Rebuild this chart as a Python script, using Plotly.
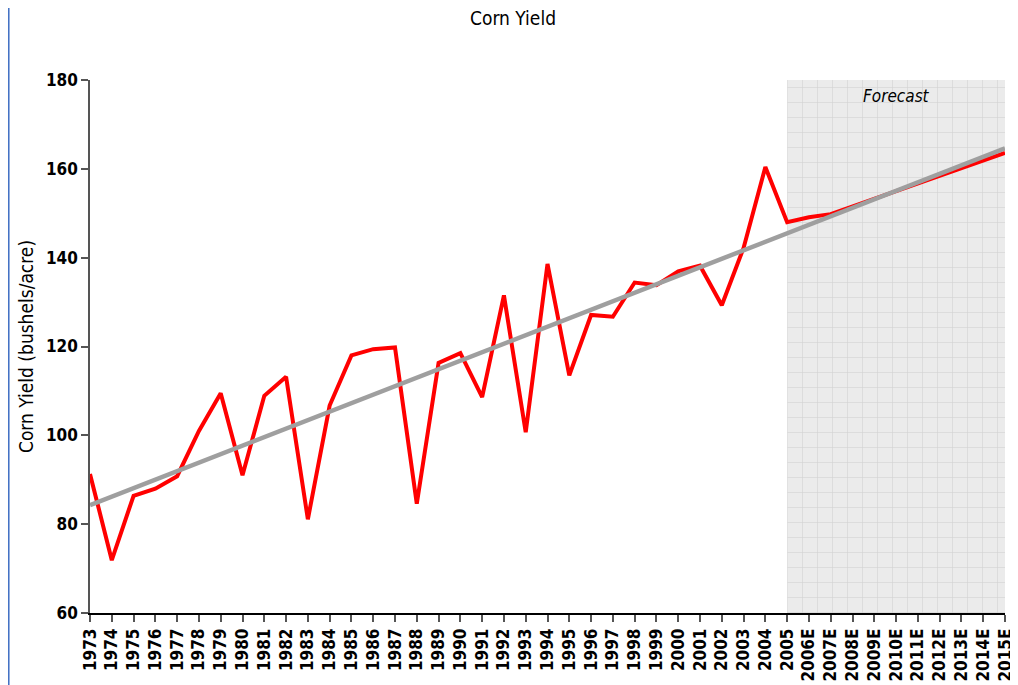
import plotly.graph_objects as go

# categories (years, E = estimate)
years = [str(y) for y in range(1973, 2006)] + [str(y) + "E" for y in range(2006, 2016)]

# corn yield, bushels/acre
yield_vals = [91.3, 71.9, 86.4, 88.0, 90.8, 101.0, 109.5, 91.0, 108.9, 113.2,
              81.1, 106.7, 118.0, 119.4, 119.8, 84.6, 116.3, 118.5, 108.6, 131.5,
              100.7, 138.6, 113.5, 127.1, 126.7, 134.4, 133.8, 136.9, 138.2, 129.3,
              142.2, 160.4, 148.0,
              149.1, 149.8, 151.5, 153.2, 155.0, 156.7, 158.4, 160.1, 161.9, 163.6]

# trend line end points
trend_x = ["1973", "2015E"]
trend_y = [84.3, 164.6]

forecast_start = "2005"
forecast_end = "2015E"
forecast_label_at = "2010E"

y_min, y_max = 60, 180

FONT = "Liberation Sans Narrow, DejaVu Sans Condensed, Arial Narrow, sans-serif"

fig = go.Figure()

# shaded forecast area with grid pattern
fig.add_trace(go.Scatter(
    x=[forecast_start, forecast_end, forecast_end, forecast_start, forecast_start],
    y=[y_min, y_min, y_max, y_max, y_min],
    fill="toself", mode="none",
    fillcolor="#ebebeb",
    fillpattern=dict(shape="+", size=15, solidity=0.08,
                     fgcolor="#bababa", bgcolor="#ebebeb"),
    hoverinfo="skip", showlegend=False))

fig.add_trace(go.Scatter(
    x=years, y=yield_vals, mode="lines",
    line=dict(color="#ff0000", width=4),
    showlegend=False))

fig.add_trace(go.Scatter(
    x=trend_x, y=trend_y, mode="lines",
    line=dict(color="#9f9f9f", width=4.5),
    showlegend=False))

fig.add_annotation(x=forecast_label_at, y=y_max, yanchor="top", yshift=-4,
                   text="<i>Forecast</i>", showarrow=False,
                   font=dict(family=FONT, size=17, color="#000000"))

# left frame line
fig.add_shape(type="line", xref="paper", yref="paper",
              x0=-0.089, x1=-0.089, y0=-0.14, y1=1.16,
              line=dict(color="#4472c4", width=2))

# page body adds an 8px offset, so the figure is 8px smaller
fig.update_layout(
    width=1010, height=677,
    margin=dict(l=82, r=13, t=72, b=72),
    paper_bgcolor="white", plot_bgcolor="white",
    title=dict(text="Corn Yield", x=0.5, xref="container", xanchor="center",
               y=0.985, yanchor="middle",
               font=dict(family=FONT, size=19, color="#000000")),
    font=dict(family=FONT, color="#000000"),
)

fig.update_xaxes(
    type="category", categoryorder="array", categoryarray=years,
    range=[0, len(years) - 1],
    showgrid=False, zeroline=False,
    showline=True, linecolor="#000000", linewidth=1.5,
    ticks="outside", ticklen=7, tickcolor="#555555", tickwidth=1.5,
    tickangle=-90,
    tickfont=dict(family=FONT, size=17, color="#000000", weight="bold"),
    automargin=False)

fig.update_yaxes(
    range=[y_min, y_max], dtick=20,
    showgrid=False, zeroline=False,
    showline=True, linecolor="#555555", linewidth=1.5,
    ticks="outside", ticklen=7, tickcolor="#555555", tickwidth=1.5,
    tickfont=dict(family=FONT, size=17, color="#000000", weight="bold"),
    title=dict(text="Corn Yield (bushels/acre)", standoff=7,
               font=dict(family=FONT, size=19, color="#000000")),
    automargin=False)

fig.write_html("out.html")
